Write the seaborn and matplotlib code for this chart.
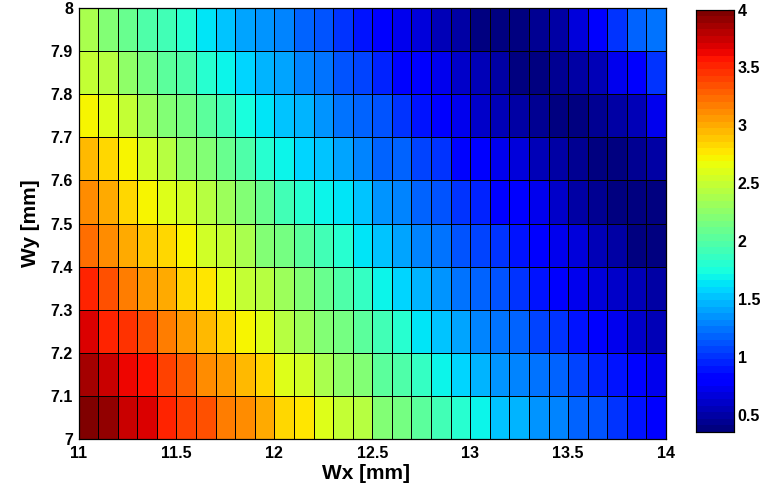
import numpy as np
import pandas as pd
import matplotlib
matplotlib.use("Agg")
import matplotlib.pyplot as plt
import seaborn as sns

# Cell lower-left coordinates (mm)
wx = [11.0, 11.1, 11.2, 11.3, 11.4, 11.5, 11.6, 11.7, 11.8, 11.9,
      12.0, 12.1, 12.2, 12.3, 12.4, 12.5, 12.6, 12.7, 12.8, 12.9,
      13.0, 13.1, 13.2, 13.3, 13.4, 13.5, 13.6, 13.7, 13.8, 13.9]
wy = [7.0, 7.1, 7.2, 7.3, 7.4, 7.5, 7.6, 7.7, 7.8, 7.9]

# Response values, one list per Wy row
z_wy70 = [3.96, 3.91, 3.77, 3.66, 3.54, 3.42, 3.32, 3.18, 3.09, 2.98,
          2.86, 2.76, 2.63, 2.51, 2.43, 2.21, 2.14, 2.03, 1.90, 1.78,
          1.72, 1.54, 1.49, 1.38, 1.27, 1.18, 1.12, 0.99, 0.88, 0.81]
z_wy71 = [3.84, 3.73, 3.64, 3.56, 3.38, 3.27, 3.13, 3.05, 2.94, 2.81,
          2.63, 2.54, 2.40, 2.27, 2.18, 2.03, 1.96, 1.85, 1.72, 1.59,
          1.49, 1.38, 1.30, 1.23, 1.16, 1.05, 0.98, 0.90, 0.83, 0.72]
z_wy72 = [3.67, 3.54, 3.44, 3.32, 3.18, 3.05, 2.94, 2.81, 2.72, 2.58,
          2.45, 2.32, 2.21, 2.14, 2.03, 1.90, 1.78, 1.63, 1.54, 1.43,
          1.30, 1.25, 1.16, 1.09, 0.99, 0.88, 0.81, 0.70, 0.63, 0.56]
z_wy73 = [3.49, 3.32, 3.18, 3.07, 2.98, 2.86, 2.76, 2.63, 2.51, 2.41,
          2.32, 2.18, 2.09, 1.96, 1.85, 1.72, 1.59, 1.45, 1.34, 1.25,
          1.19, 1.10, 1.01, 0.92, 0.81, 0.74, 0.67, 0.63, 0.56, 0.49]
z_wy74 = [3.23, 3.09, 3.00, 2.91, 2.82, 2.71, 2.56, 2.47, 2.36, 2.21,
          2.14, 2.03, 1.92, 1.80, 1.63, 1.52, 1.41, 1.30, 1.23, 1.10,
          1.07, 0.99, 0.88, 0.81, 0.74, 0.65, 0.58, 0.49, 0.40, 0.36]
z_wy75 = [3.09, 2.98, 2.86, 2.74, 2.63, 2.52, 2.41, 2.32, 2.20, 2.07,
          1.92, 1.80, 1.72, 1.61, 1.52, 1.38, 1.27, 1.19, 1.10, 1.00,
          0.94, 0.81, 0.77, 0.70, 0.61, 0.52, 0.45, 0.37, 0.36, 0.40]
z_wy76 = [2.92, 2.82, 2.71, 2.52, 2.41, 2.29, 2.18, 2.09, 1.98, 1.83,
          1.72, 1.59, 1.54, 1.41, 1.30, 1.19, 1.16, 1.07, 0.99, 0.86,
          0.81, 0.72, 0.65, 0.58, 0.52, 0.43, 0.37, 0.40, 0.43, 0.49]
z_wy77 = [2.71, 2.58, 2.47, 2.34, 2.21, 2.14, 2.01, 1.90, 1.77, 1.65,
          1.54, 1.49, 1.36, 1.25, 1.18, 1.10, 0.99, 0.92, 0.81, 0.72,
          0.63, 0.56, 0.49, 0.45, 0.40, 0.37, 0.43, 0.47, 0.58, 0.72]
z_wy78 = [2.51, 2.41, 2.27, 2.16, 2.04, 1.96, 1.83, 1.72, 1.59, 1.49,
          1.41, 1.30, 1.22, 1.10, 1.07, 0.95, 0.86, 0.77, 0.70, 0.63,
          0.58, 0.47, 0.40, 0.37, 0.43, 0.52, 0.56, 0.70, 0.81, 0.99]
z_wy79 = [2.36, 2.21, 2.11, 1.99, 1.90, 1.80, 1.63, 1.52, 1.41, 1.34,
          1.27, 1.18, 1.13, 0.99, 0.92, 0.81, 0.74, 0.65, 0.56, 0.47,
          0.40, 0.36, 0.40, 0.43, 0.52, 0.67, 0.81, 0.99, 1.18, 1.22]

x_ticks = [11, 11.5, 12, 12.5, 13, 13.5, 14]
x_tick_labels = ["11", "11.5", "12", "12.5", "13", "13.5", "14"]
y_ticks = [7.0, 7.1, 7.2, 7.3, 7.4, 7.5, 7.6, 7.7, 7.8, 7.9, 8.0]
y_tick_labels = ["7", "7.1", "7.2", "7.3", "7.4", "7.5", "7.6", "7.7", "7.8", "7.9", "8"]
cbar_ticks = [0.5, 1, 1.5, 2, 2.5, 3, 3.5, 4]
cbar_tick_labels = ["0.5", "1", "1.5", "2", "2.5", "3", "3.5", "4"]
c_min, c_max = 0.356, 4.0

rows = [z_wy70, z_wy71, z_wy72, z_wy73, z_wy74,
        z_wy75, z_wy76, z_wy77, z_wy78, z_wy79]
# heatmap draws the first row at the top, so put the largest Wy first
grid = pd.DataFrame(rows[::-1], index=wy[::-1], columns=wx)

sns.set_theme(style="white")
plt.rcParams["font.family"] = ["Liberation Sans", "DejaVu Sans"]
plt.rcParams["font.weight"] = "bold"

fig = plt.figure(figsize=(7.63, 4.87), dpi=100)
ax = fig.add_axes([78.5 / 763, 48 / 487, 587.5 / 763, 431 / 487])
cax = fig.add_axes([696 / 763, 55 / 487, 37.5 / 763, 422.5 / 487])

jet = plt.get_cmap("jet", 64)
sns.heatmap(grid, ax=ax, cbar_ax=cax, cmap=jet, vmin=c_min, vmax=c_max,
            linewidths=0.7, linecolor="black",
            xticklabels=False, yticklabels=False,
            cbar_kws={"ticks": cbar_ticks})

# map data coordinates onto heatmap cell positions
step_x = wx[1] - wx[0]
step_y = wy[1] - wy[0]
n_x, n_y = len(wx), len(wy)
xpos = np.interp(x_ticks, [wx[0], wx[-1] + step_x], [0, n_x])
ypos = np.interp(y_ticks, [wy[0], wy[-1] + step_y], [n_y, 0])

tick_font = 11.5
ax.set_xticks(xpos)
ax.set_xticklabels(x_tick_labels, fontsize=tick_font, fontweight="bold", rotation=0)
ax.set_yticks(ypos)
ax.set_yticklabels(y_tick_labels, fontsize=tick_font, fontweight="bold", rotation=0)
ax.tick_params(axis="x", length=0, pad=5, colors="black")
ax.tick_params(axis="y", length=0, pad=4, colors="black")

for s in ax.spines.values():
    s.set_visible(True)
    s.set_color("black")
    s.set_linewidth(0.9)

ax.set_xlabel("Wx [mm]", fontsize=15, fontweight="bold", color="black")
ax.set_ylabel("Wy [mm]", fontsize=15, fontweight="bold", color="black")
ax.xaxis.set_label_coords(0.49, -0.058)
ax.yaxis.set_label_coords(-0.066, 0.5)

cax.set_yticks(cbar_ticks)
cax.set_yticklabels(cbar_tick_labels, fontsize=tick_font, fontweight="bold")
cax.tick_params(axis="y", direction="in", length=4, width=0.8, pad=3,
                colors="black", right=True, left=False)
for s in cax.spines.values():
    s.set_visible(True)
    s.set_color("black")
    s.set_linewidth(0.8)
cax.set_ylim(c_min, c_max)

fig.savefig("out.png", dpi=100, facecolor="white")
